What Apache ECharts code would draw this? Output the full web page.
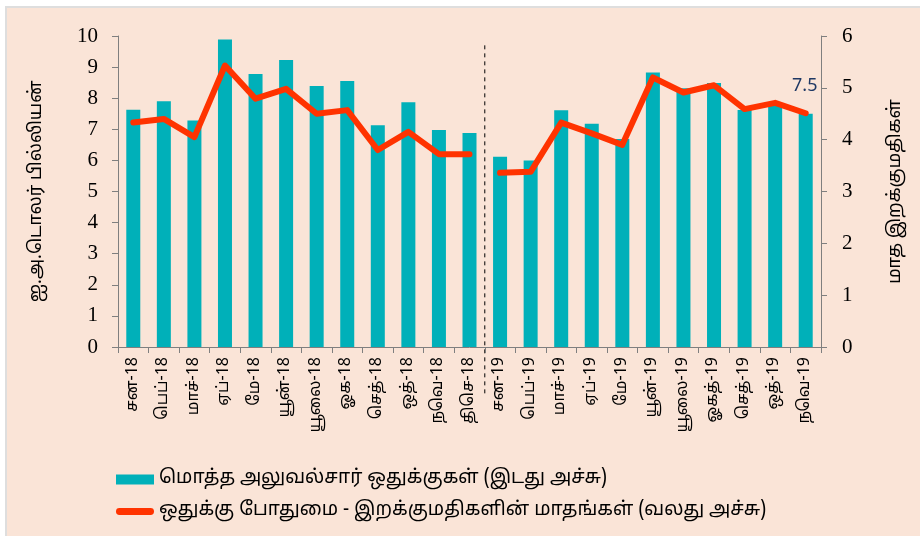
<!DOCTYPE html>
<html>
<head>
<meta charset="utf-8">
<script src="https://cdn.jsdelivr.net/npm/echarts@6/dist/echarts.min.js"></script>
<style>
  html, body { margin: 0; padding: 0; background: #fff; }
  .frame {
    position: absolute; left: 5px; top: 6px; width: 915px; height: 530px;
    background: #fae4d7; border-top: 2px solid #dedede; border-left: 2px solid #dedede;
    box-sizing: border-box;
  }
  #chart { position: absolute; left: 0; top: 0; width: 920px; height: 536px; }
</style>
</head>
<body>
<div class="frame"></div>
<div id="chart"></div>
<script>
// மாதங்கள்
const months = [
  'சன-18', 'பெப்-18', 'மாச்-18', 'ஏப்-18', 'மே-18', 'யூன்-18', 'யூலை-18', 'ஓக-18',
  'செத்-18', 'ஒத்-18', 'நவெ-18', 'திசெ-18',
  'சன-19', 'பெப்-19', 'மாச்-19', 'ஏப்-19', 'மே-19', 'யூன்-19', 'யூலை-19', 'ஓகத்-19',
  'செத்-19', 'ஒத்-19', 'நவெ-19'
]
// மொத்த அலுவல்சார் ஒதுக்குகள் (இடது அச்சு)
const reserves = [
  7.63, 7.9, 7.28, 9.89, 8.78, 9.23, 8.39, 8.55, 7.13, 7.87, 6.98, 6.88,
  6.12, 6.0, 7.61, 7.18, 6.69, 8.83, 8.32, 8.49, 7.62, 7.75, 7.5
]
// ஒதுக்கு போதுமை (வலது அச்சு)
const importMonths = [
  4.33, 4.4, 4.05, 5.43, 4.79, 4.98, 4.5, 4.57, 3.8, 4.15, 3.72, 3.72,
  3.36, 3.38, 4.33, 4.12, 3.9, 5.2, 4.91, 5.05, 4.59, 4.71, 4.51
]
const leftTicks = { min: 0, max: 10, interval: 1 }
const rightTicks = { min: 0, max: 6, interval: 1 }
const barName = 'மொத்த அலுவல்சார் ஒதுக்குகள் (இடது அச்சு)'
const lineName = 'ஒதுக்கு போதுமை - இறக்குமதிகளின் மாதங்கள் (வலது அச்சு)'
const splitAt = 12 // 2019 தொடக்கம்

const tamilFont = '"Noto Sans Tamil", "Noto Sans", "DejaVu Sans", sans-serif'
const numFont = '"Liberation Serif", "DejaVu Serif", serif'
const axisGrey = '#7f7f7f'

const chart = echarts.init(document.getElementById('chart'), null, { renderer: 'canvas' })

const lastIdx = reserves.length - 1
const barData = reserves.map((v, i) => i === lastIdx ? {
  value: v,
  label: {
    show: true, position: 'top', offset: [-1, -14],
    color: '#1f3864', fontSize: 18, fontFamily: '"Noto Sans", sans-serif',
    formatter: '{c}'
  }
} : v)

// இரு வருடங்களுக்கும் தனித்தனி கோடு
const line2018 = importMonths.map((v, i) => i < splitAt ? v : '-')
const line2019 = importMonths.map((v, i) => i >= splitAt ? v : '-')

const lineSeries = (data) => ({
  name: lineName,
  type: 'line',
  yAxisIndex: 1,
  symbol: 'none',
  lineStyle: { color: '#ff3300', width: 6, cap: 'round', join: 'round' },
  itemStyle: { color: '#ff3300' },
  data,
  z: 3
})

chart.setOption({
  backgroundColor: 'transparent',
  animation: false,
  grid: { left: 118, right: 99, top: 36, bottom: 189 },
  legend: {
    orient: 'vertical', left: 111, top: 465,
    itemWidth: 38, itemHeight: 10, itemGap: 13,
    textStyle: { fontFamily: tamilFont, fontSize: 19, color: '#000' },
    data: [
      { name: barName, icon: 'rect' },
      { name: lineName, icon: 'path://M3,0 L35,0 A3.5,3.5 0 0 1 35,7 L3,7 A3.5,3.5 0 0 1 3,0 Z' }
    ]
  },
  xAxis: {
    type: 'category',
    data: months,
    axisLine: { lineStyle: { color: axisGrey } },
    axisTick: { show: true, length: 6, lineStyle: { color: axisGrey } },
    axisLabel: {
      rotate: 90, interval: 0, margin: 10,
      fontFamily: tamilFont, fontSize: 16, color: '#000'
    }
  },
  yAxis: [
    {
      type: 'value', ...leftTicks,
      name: 'ஐ.அ.டொலர் பில்லியன்',
      nameLocation: 'middle', nameRotate: 90, nameGap: 72,
      nameTextStyle: { fontFamily: tamilFont, fontSize: 18, color: '#000' },
      axisLine: { show: true, lineStyle: { color: axisGrey } },
      axisTick: { show: true, length: 6, lineStyle: { color: axisGrey } },
      splitLine: { show: false },
      axisLabel: { fontFamily: numFont, fontSize: 21, color: '#000', margin: 20 }
    },
    {
      type: 'value', ...rightTicks,
      name: 'மாத இறக்குமதிகள்',
      nameLocation: 'middle', nameRotate: 90, nameGap: 66,
      nameTextStyle: { fontFamily: tamilFont, fontSize: 18, color: '#000' },
      axisLine: { show: true, lineStyle: { color: axisGrey } },
      axisTick: { show: true, length: 6, lineStyle: { color: axisGrey } },
      splitLine: { show: false },
      axisLabel: { fontFamily: numFont, fontSize: 21, color: '#000', margin: 21 }
    }
  ],
  series: [
    {
      name: barName,
      type: 'bar',
      yAxisIndex: 0,
      barWidth: 14,
      itemStyle: { color: '#00b0b9' },
      data: barData
    },
    lineSeries(line2018),
    lineSeries(line2019)
  ]
})

// 2018 / 2019 பிரிப்புக் கோடு
const xa = chart.convertToPixel({ xAxisIndex: 0 }, splitAt - 1)
const xb = chart.convertToPixel({ xAxisIndex: 0 }, splitAt)
const xMid = (xa + xb) / 2
const yTop = chart.convertToPixel({ yAxisIndex: 0 }, 9.7)
const yZero = chart.convertToPixel({ yAxisIndex: 0 }, 0)
chart.setOption({
  graphic: [{
    type: 'line',
    shape: { x1: xMid, y1: yTop, x2: xMid, y2: yZero + 48 },
    style: { stroke: '#000', lineWidth: 1, lineDash: [4, 4] },
    silent: true
  }]
})

window.addEventListener('resize', () => chart.resize())
</script>
</body>
</html>
